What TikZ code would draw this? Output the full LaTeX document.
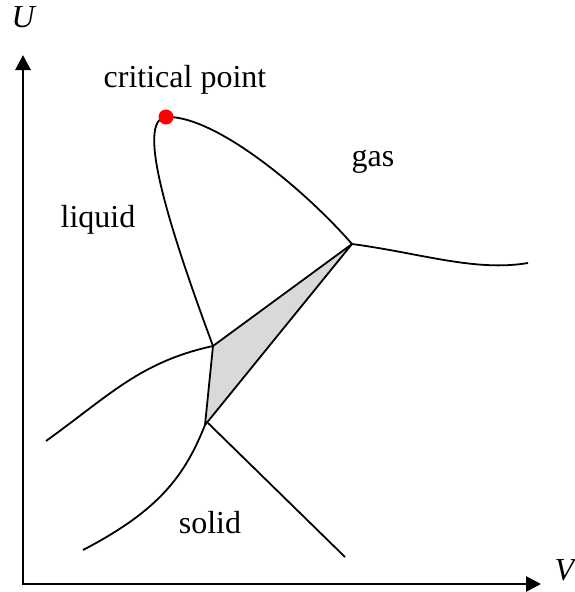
\documentclass[tikz,border=0pt]{standalone}
\usepackage{fontspec}
\setmainfont{Liberation Serif}
\usetikzlibrary{arrows.meta}
\begin{document}
\begin{tikzpicture}[x=1pt,y=-1pt,
  curve/.style={line width=1.8pt,line join=round},
  axis/.style={line width=2.8pt,-{Triangle[length=15pt,width=15pt]}},
  lbl/.style={anchor=base,inner sep=0pt,font=\fontsize{32}{37}\selectfont}]
\useasboundingbox (0,0) rectangle (574,592);
% coordinates
\coordinate (O) at (23,584);
\coordinate (Ytop) at (23,55);
\coordinate (Xend) at (541,584);
\coordinate (A) at (213,346);
\coordinate (B) at (352,244);
\coordinate (C) at (205,425);
\coordinate (CP) at (166,117);
\coordinate (R) at (528,263);
\coordinate (L) at (46,441);
\coordinate (LL) at (83,550);
\coordinate (E) at (345,557);
% axes
\draw[axis] ([yshift=-1.4pt]O) -- (Ytop);
\draw[axis] ([xshift=-1.4pt]O) -- (Xend);
% triangle
\filldraw[curve,fill=black!15] (A) -- (B) -- (C) -- cycle;
% curves
\draw[curve] (A) .. controls (170,230) and (135,120) .. (CP);
\draw[curve] (CP) .. controls (215,115) and (305,190) .. (B);
\draw[curve] (B) .. controls (420,253) and (475,272) .. (R);
\draw[curve] (A) .. controls (140,362) and (110,395) .. (L);
\draw[curve] (C) .. controls (185,475) and (160,510) .. (LL);
\draw[curve] ([xshift=3pt,yshift=2pt]C) -- (E);
% critical point
\fill[red] (CP) circle (7.5pt);
% labels
\node[lbl] (ulabel) at (24,27) {\textit{U}};
\node[lbl] (vlabel) at (566,580) {\textit{V}};
\node[lbl] (crit) at (185,87) {critical point};
\node[lbl] (gas) at (373,166) {gas};
\node[lbl] (liquid) at (98,227) {liquid};
\node[lbl] (solid) at (210,533) {solid};
\end{tikzpicture}
\end{document}
